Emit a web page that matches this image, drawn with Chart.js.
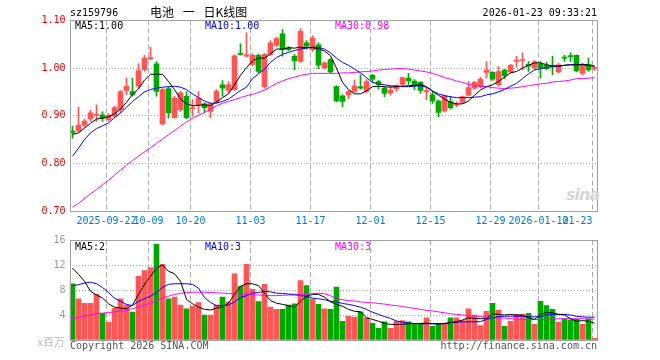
<!DOCTYPE html>
<html>
<head>
<meta charset="utf-8">
<title>电池 日K线图</title>
<script src="https://cdn.jsdelivr.net/npm/chart.js@4.4.1/dist/chart.umd.min.js"></script>
<style>
  body { margin: 0; background: #fff; }
  #box { position: relative; width: 660px; height: 360px; overflow: hidden; }
  canvas { position: absolute; left: 0; }
  .t { position: absolute; font: 10px "DejaVu Sans Mono", monospace; line-height: 12px; white-space: pre; color: #000; }
</style>
</head>
<body>
<div id="box">
  <canvas id="kline" width="660" height="230" style="top:0"></canvas>
  <canvas id="volume" width="660" height="130" style="top:230px"></canvas>
  <div class="t" style="left:70px;top:7px">sz159796</div>
  <div class="t" style="left:150px;top:4px;font:12px 'Noto Sans CJK SC';line-height:16px;word-spacing:6px">电池 一 日K线图</div>
  <div class="t" style="right:63px;top:7px">2026-01-23 09:33:21</div>
  <div class="t" style="left:75px;top:20px">MA5:1.00</div>
  <div class="t" style="left:205px;top:20px;color:#00f">MA10:1.00</div>
  <div class="t" style="left:335px;top:20px;color:#f0f">MA30:0.98</div>
  <div class="t" style="left:75px;top:241px">MA5:2</div>
  <div class="t" style="left:205px;top:241px;color:#00f">MA10:3</div>
  <div class="t" style="left:335px;top:241px;color:#f0f">MA30:3</div>
  <div class="t" style="right:595px;top:333px;font:11px 'Noto Sans CJK SC';line-height:16px;color:#bbb">x百万</div>
  <div class="t" style="left:70px;top:340px;color:#555">Copyright 2026 SINA.COM</div>
  <div class="t" style="right:63px;top:340px;color:#555">http://finance.sina.com.cn</div>
  <div class="t" style="left:566px;top:186px;font:italic bold 16px 'DejaVu Sans';line-height:18px;color:#d4d4d4;letter-spacing:-1px">sina</div>
</div>
<script>
// ***** data *****
// trading days (category axis)
const days = [
  "2025-09-12", "2025-09-15", "2025-09-16", "2025-09-17", "2025-09-18", "2025-09-19",
  "2025-09-22", "2025-09-23", "2025-09-24", "2025-09-25", "2025-09-26", "2025-09-29", "2025-09-30",
  "2025-10-09", "2025-10-10", "2025-10-13", "2025-10-14", "2025-10-15", "2025-10-16", "2025-10-17",
  "2025-10-20", "2025-10-21", "2025-10-22", "2025-10-23", "2025-10-24", "2025-10-27", "2025-10-28",
  "2025-10-29", "2025-10-30", "2025-10-31",
  "2025-11-03", "2025-11-04", "2025-11-05", "2025-11-06", "2025-11-07", "2025-11-10", "2025-11-11",
  "2025-11-12", "2025-11-13", "2025-11-14", "2025-11-17", "2025-11-18", "2025-11-19", "2025-11-20",
  "2025-11-21", "2025-11-24", "2025-11-25", "2025-11-26", "2025-11-27", "2025-11-28",
  "2025-12-01", "2025-12-02", "2025-12-03", "2025-12-04", "2025-12-05", "2025-12-08", "2025-12-09",
  "2025-12-10", "2025-12-11", "2025-12-12", "2025-12-15", "2025-12-16", "2025-12-17", "2025-12-18",
  "2025-12-19", "2025-12-22", "2025-12-23", "2025-12-24", "2025-12-25", "2025-12-26", "2025-12-29",
  "2025-12-30", "2025-12-31",
  "2026-01-05", "2026-01-06", "2026-01-07", "2026-01-08", "2026-01-09", "2026-01-12", "2026-01-13",
  "2026-01-14", "2026-01-15", "2026-01-16", "2026-01-19", "2026-01-20", "2026-01-21", "2026-01-22",
  "2026-01-23",
];

// tick labels of the date axis
const tickDays = ["2025-09-22", "2025-10-09", "2025-10-20", "2025-11-03", "2025-11-17",
  "2025-12-01", "2025-12-15", "2025-12-29", "2026-01-12", "2026-01-23"];
const tickText = ["2025-09-22", "10-09", "10-20", "11-03", "11-17",
  "12-01", "12-15", "12-29", "2026-01-12", "01-23"];

const opens = [
  0.868, 0.868, 0.880, 0.894, 0.901, 0.902, 0.892, 0.899, 0.913, 0.953,
  0.951, 0.962, 0.997, 1.020, 1.009, 0.883, 0.957, 0.896, 0.913, 0.941,
  0.915, 0.923, 0.925, 0.909, 0.930, 0.965, 0.953, 0.955, 1.031, 1.025,
  1.008, 1.027, 0.961, 1.029, 1.048, 1.072, 1.042, 1.025, 1.014, 1.053,
  1.039, 1.049, 1.001, 1.018, 0.961, 0.942, 0.944, 0.951, 0.961, 0.951,
  0.985, 0.972, 0.958, 0.948, 0.957, 0.966, 0.979, 0.973, 0.970, 0.950,
  0.944, 0.931, 0.910, 0.930, 0.922, 0.928, 0.943, 0.958, 0.961, 0.991,
  0.991, 0.965, 0.996, 0.992, 1.014, 1.016, 1.008, 1.001, 1.008, 1.006,
  1.004, 0.992, 1.022, 1.025, 1.027, 0.989, 1.008, 0.999,
];
const highs = [
  0.878, 0.918, 0.893, 0.912, 0.923, 0.908, 0.905, 0.920, 0.953, 0.979,
  0.979, 1.009, 1.027, 1.044, 1.014, 0.958, 0.960, 0.941, 0.951, 0.951,
  0.934, 0.951, 0.927, 0.927, 0.955, 0.974, 0.972, 1.028, 1.051, 1.074,
  1.030, 1.030, 1.031, 1.058, 1.065, 1.081, 1.045, 1.029, 1.083, 1.058,
  1.068, 1.053, 1.013, 1.020, 0.963, 0.944, 0.953, 0.975, 0.986, 0.976,
  0.987, 0.975, 0.960, 0.962, 0.965, 0.981, 0.989, 0.976, 0.972, 0.958,
  0.951, 0.933, 0.944, 0.940, 0.930, 0.942, 0.972, 0.972, 0.981, 1.014,
  0.993, 1.003, 0.998, 1.008, 1.025, 1.032, 1.014, 1.016, 1.014, 1.012,
  1.025, 1.010, 1.027, 1.032, 1.028, 1.010, 1.021, 1.003,
];
const lows = [
  0.853, 0.865, 0.876, 0.888, 0.888, 0.888, 0.889, 0.897, 0.906, 0.944,
  0.941, 0.958, 0.993, 1.018, 0.941, 0.881, 0.895, 0.895, 0.909, 0.894,
  0.899, 0.906, 0.906, 0.896, 0.926, 0.941, 0.948, 0.953, 1.027, 1.023,
  1.005, 0.990, 0.958, 1.026, 1.045, 1.025, 1.036, 0.996, 1.012, 1.040,
  1.035, 0.999, 0.998, 0.990, 0.929, 0.919, 0.936, 0.949, 0.956, 0.949,
  0.970, 0.956, 0.940, 0.943, 0.951, 0.963, 0.966, 0.955, 0.947, 0.934,
  0.926, 0.898, 0.908, 0.914, 0.919, 0.926, 0.941, 0.956, 0.958, 0.979,
  0.974, 0.962, 0.978, 0.990, 1.003, 0.996, 0.993, 0.997, 0.979, 0.996,
  0.986, 0.990, 1.014, 1.014, 0.992, 0.985, 0.993, 0.995,
];
const closes = [
  0.865, 0.880, 0.889, 0.906, 0.903, 0.895, 0.901, 0.917, 0.951, 0.962,
  0.944, 0.995, 1.021, 1.022, 0.951, 0.955, 0.906, 0.937, 0.948, 0.896,
  0.917, 0.937, 0.917, 0.925, 0.952, 0.958, 0.965, 1.026, 1.029, 1.028,
  1.027, 0.993, 1.029, 1.053, 1.062, 1.039, 1.039, 1.015, 1.077, 1.046,
  1.063, 1.006, 1.011, 0.992, 0.931, 0.930, 0.951, 0.963, 0.958, 0.972,
  0.977, 0.965, 0.947, 0.954, 0.964, 0.980, 0.973, 0.964, 0.953, 0.953,
  0.931, 0.907, 0.942, 0.917, 0.924, 0.940, 0.959, 0.970, 0.977, 0.996,
  0.977, 0.993, 0.984, 1.006, 1.017, 1.018, 1.004, 1.013, 1.000, 0.999,
  1.003, 1.007, 1.021, 1.024, 0.994, 1.008, 0.996, 1.001,
];

// price moving averages
const ma5 = [
  0.861, 0.864, 0.874, 0.884, 0.893, 0.895, 0.898, 0.904, 0.914, 0.928,
  0.945, 0.956, 0.975, 0.987, 0.987, 0.987, 0.972, 0.955, 0.935, 0.925,
  0.921, 0.922, 0.923, 0.921, 0.929, 0.938, 0.946, 0.965, 0.985, 1.001,
  1.015, 1.021, 1.021, 1.030, 1.040, 1.040, 1.043, 1.042, 1.044, 1.043,
  1.043, 1.040, 1.036, 1.026, 1.000, 0.970, 0.955, 0.946, 0.946, 0.952,
  0.961, 0.962, 0.961, 0.960, 0.961, 0.962, 0.963, 0.964, 0.966, 0.961,
  0.952, 0.943, 0.935, 0.928, 0.925, 0.925, 0.931, 0.943, 0.954, 0.961,
  0.965, 0.972, 0.981, 0.990, 0.993, 1.000, 1.006, 1.011, 1.011, 1.007,
  1.005, 1.004, 1.006, 1.007, 1.007, 1.008, 1.006, 1.004,
];
const ma10 = [
  0.815, 0.832, 0.850, 0.864, 0.873, 0.879, 0.885, 0.896, 0.906, 0.918,
  0.930, 0.940, 0.950, 0.955, 0.958, 0.960, 0.961, 0.962, 0.960, 0.955,
  0.946, 0.938, 0.931, 0.926, 0.927, 0.930, 0.935, 0.944, 0.953, 0.960,
  0.978, 0.988, 0.998, 1.012, 1.022, 1.029, 1.033, 1.037, 1.040, 1.042,
  1.044, 1.043, 1.040, 1.032, 1.021, 1.012, 1.006, 0.998, 0.990, 0.980,
  0.970, 0.967, 0.965, 0.963, 0.962, 0.961, 0.961, 0.962, 0.963, 0.960,
  0.952, 0.946, 0.942, 0.940, 0.938, 0.938, 0.938, 0.939, 0.940, 0.944,
  0.946, 0.950, 0.955, 0.962, 0.968, 0.978, 0.988, 0.996, 0.999, 1.001,
  1.003, 1.004, 1.006, 1.007, 1.007, 1.007, 1.006, 1.004,
];
const ma30 = [
  0.708, 0.716, 0.726, 0.736, 0.745, 0.755, 0.765, 0.775, 0.786, 0.796,
  0.806, 0.815, 0.824, 0.833, 0.842, 0.851, 0.860, 0.869, 0.878, 0.887,
  0.895, 0.901, 0.907, 0.914, 0.921, 0.926, 0.930, 0.934, 0.938, 0.942,
  0.945, 0.949, 0.954, 0.961, 0.968, 0.973, 0.978, 0.981, 0.985, 0.987,
  0.989, 0.989, 0.989, 0.989, 0.989, 0.990, 0.990, 0.991, 0.992, 0.993,
  0.994, 0.996, 0.997, 0.998, 0.999, 0.999, 0.998, 0.996, 0.994, 0.992,
  0.989, 0.985, 0.980, 0.977, 0.973, 0.970, 0.966, 0.964, 0.962, 0.961,
  0.959, 0.958, 0.957, 0.958, 0.959, 0.961, 0.963, 0.965, 0.967, 0.968,
  0.971, 0.972, 0.973, 0.975, 0.978, 0.978, 0.979, 0.980,
];

// volume, millions
const volumes = [
  9.0, 6.6, 5.85, 5.85, 7.3, 4.25, 2.85, 5.05, 6.6, 5.6,
  4.45, 10.2, 11.1, 11.6, 15.3, 12.1, 6.6, 6.85, 5.6, 5.0,
  5.4, 6.0, 4.0, 4.0, 5.6, 6.85, 6.1, 10.6, 8.6, 12.1,
  8.1, 6.15, 8.9, 5.25, 4.9, 4.9, 5.6, 5.8, 9.5, 8.7,
  6.5, 5.7, 5.0, 4.9, 8.45, 3.0, 3.8, 3.65, 4.5, 3.55,
  2.65, 1.85, 2.9, 1.85, 3.0, 3.1, 2.9, 2.5, 2.6, 3.55,
  2.2, 2.65, 2.6, 3.55, 3.55, 3.1, 5.0, 4.0, 2.3, 4.6,
  5.85, 4.8, 2.2, 3.0, 4.1, 4.1, 4.25, 2.5, 6.2, 5.5,
  4.9, 2.85, 3.4, 3.2, 3.3, 2.5, 3.4, 0.25,
];
const vma5 = [
  11.5, 10.5, 9.4, 7.8, 7.2, 6.7, 5.8, 5.25, 5.1, 5.0,
  5.6, 7.3, 8.9, 10.2, 11.5, 12.0, 11.0, 10.6, 9.4, 6.5,
  5.8, 5.25, 4.9, 4.8, 5.1, 5.25, 5.9, 7.3, 8.6, 9.0,
  9.0, 8.7, 7.5, 6.3, 5.9, 5.7, 5.5, 5.25, 6.2, 7.0,
  7.3, 7.3, 6.85, 6.1, 5.7, 5.4, 4.9, 4.6, 4.5, 3.55,
  3.3, 3.0, 2.65, 2.5, 2.5, 2.5, 2.6, 2.65, 2.65, 2.7,
  2.6, 2.6, 2.6, 2.8, 2.9, 3.2, 3.55, 3.45, 3.4, 3.45,
  4.2, 4.1, 4.0, 4.1, 4.0, 4.0, 3.55, 3.3, 4.1, 4.4,
  4.35, 4.1, 4.0, 3.4, 3.0, 3.1, 3.0, 2.7,
];
const vma10 = [
  8.7, 8.85, 9.1, 9.25, 9.0, 8.4, 7.6, 6.7, 6.2, 5.7,
  5.5, 6.2, 6.6, 7.0, 7.6, 8.4, 8.9, 9.0, 9.0, 9.0,
  8.9, 8.3, 6.8, 6.0, 5.5, 5.5, 5.6, 6.1, 6.8, 7.1,
  7.5, 7.6, 7.8, 7.7, 7.5, 7.45, 7.35, 7.3, 7.1, 7.0,
  6.7, 6.6, 6.45, 6.2, 6.1, 5.85, 5.7, 5.5, 5.25, 4.9,
  4.45, 4.1, 3.75, 3.45, 3.05, 2.85, 2.7, 2.65, 2.6, 2.6,
  2.6, 2.6, 2.65, 2.8, 2.85, 2.9, 2.9, 2.9, 2.95, 3.3,
  3.55, 3.75, 3.8, 3.8, 3.8, 3.8, 3.75, 3.7, 3.75, 4.0,
  4.1, 4.1, 4.1, 4.0, 3.8, 3.7, 3.65, 3.65,
];
const vma30 = [
  3.4, 3.6, 3.85, 4.0, 4.2, 4.3, 4.4, 4.5, 4.65, 4.8,
  5.0, 5.3, 5.6, 5.9, 6.3, 6.7, 7.0, 7.3, 7.45, 7.6,
  7.65, 7.65, 7.65, 7.6, 7.55, 7.5, 7.45, 7.4, 7.35, 7.3,
  7.25, 7.2, 7.15, 7.1, 7.1, 7.15, 7.2, 7.2, 7.25, 7.3,
  7.4, 7.5, 7.4, 7.1, 6.6, 6.45, 6.3, 6.25, 6.1, 6.0,
  5.95, 5.85, 5.75, 5.6, 5.5, 5.35, 5.2, 5.05, 4.9, 4.75,
  4.65, 4.5, 4.35, 4.2, 4.1, 4.0, 3.9, 3.85, 3.75, 3.7,
  3.6, 3.55, 3.5, 3.4, 3.35, 3.3, 3.3, 3.3, 3.3, 3.3,
  3.35, 3.4, 3.4, 3.4, 3.4, 3.4, 3.35, 3.35,
];

// ***** styles *****
const RED = "#ff5555";
const GREEN = "#00a800";
const MONO = "DejaVu Sans Mono";
const upColor = opens.map((o, i) => (closes[i] >= o ? RED : GREEN));
const tickIdx = tickDays.map((d) => days.indexOf(d));

// dashed day lines, frame box, date labels
const sinaFrame = {
  id: "sinaFrame",
  beforeDatasetsDraw(chart, args, opts) {
    const { ctx, chartArea: a, scales: { x } } = chart;
    ctx.save();
    ctx.strokeStyle = "#aaa";
    ctx.lineWidth = 1;
    ctx.setLineDash([5, 3]);
    tickIdx.forEach((idx) => {
      const px = Math.floor(x.getPixelForValue(idx) - 2.5) + 0.5;
      ctx.beginPath();
      ctx.moveTo(px, a.top);
      ctx.lineTo(px, a.bottom);
      ctx.stroke();
    });
    ctx.restore();
  },
  afterDraw(chart, args, opts) {
    const { ctx, chartArea: a, scales: { x } } = chart;
    ctx.save();
    ctx.strokeStyle = "#a0a0a0";
    ctx.lineWidth = 1;
    const l = Math.round(a.left) + 0.5;
    const r = Math.round(a.right) - 0.5;
    ctx.strokeRect(l, opts.top, r - l, opts.bottom - opts.top);
    if (opts.labels) {
      ctx.font = "10px " + MONO;
      ctx.fillStyle = "#0078d7";
      ctx.textBaseline = "middle";
      tickIdx.forEach((idx, k) => {
        const px = Math.floor(x.getPixelForValue(idx) - 2.5) + 0.5;
        ctx.textAlign = k === tickIdx.length - 1 ? "right" : "center";
        ctx.fillText(tickText[k], px, 221);
      });
    }
    ctx.restore();
  },
};

const lineSet = (label, data, color) => ({
  type: "line",
  label,
  data,
  borderColor: color,
  borderWidth: 1,
  pointRadius: 0,
  tension: 0,
  fill: false,
  order: 0,
});

// ***** candle chart *****
const klineChart = new Chart(document.getElementById("kline"), {
  type: "bar",
  data: {
    labels: days,
    datasets: [
      lineSet("MA5", ma5, "#000"),
      lineSet("MA10", ma10, "#0000ff"),
      lineSet("MA30", ma30, "#ff00ff"),
      {
        label: "body",
        data: opens.map((o, i) => [Math.min(o, closes[i]), Math.max(o, closes[i])]),
        backgroundColor: upColor,
        barThickness: 5,
        minBarLength: 1,
        grouped: false,
        order: 1,
      },
      {
        label: "wick",
        data: lows.map((l, i) => [l, highs[i]]),
        backgroundColor: upColor,
        barThickness: 1,
        grouped: false,
        order: 2,
      },
    ],
  },
  options: {
    responsive: false,
    animation: false,
    devicePixelRatio: 1,
    layout: { padding: { top: 20.5, right: 62.5, bottom: 19, left: 0 } },
    scales: {
      x: { display: false },
      y: {
        min: 0.7,
        max: 1.1,
        afterFit: (s) => { s.width = 69.5; },
        grid: { color: "#aaa", drawTicks: false },
        border: { display: false, dash: [1, 2] },
        ticks: {
          stepSize: 0.1,
          padding: 4,
          color: "#e00000",
          font: { family: MONO, size: 10 },
          callback: (v) => v.toFixed(2),
        },
      },
    },
    plugins: {
      legend: { display: false },
      tooltip: { enabled: false },
      sinaFrame: { top: 20.5, bottom: 211.5, labels: true },
    },
  },
  plugins: [sinaFrame],
});

// ***** volume chart *****
const volumeChart = new Chart(document.getElementById("volume"), {
  type: "bar",
  data: {
    labels: days,
    datasets: [
      lineSet("MA5", vma5, "#000"),
      lineSet("MA10", vma10, "#0000ff"),
      lineSet("MA30", vma30, "#ff00ff"),
      {
        label: "volume",
        data: volumes,
        backgroundColor: upColor,
        barThickness: 5,
        grouped: false,
        order: 1,
      },
    ],
  },
  options: {
    responsive: false,
    animation: false,
    devicePixelRatio: 1,
    layout: { padding: { top: 10, right: 62.5, bottom: 20, left: 0 } },
    scales: {
      x: { display: false },
      y: {
        min: 0,
        max: 16,
        afterFit: (s) => { s.width = 69.5; },
        grid: { color: "#aaa", drawTicks: false },
        border: { display: false, dash: [1, 2] },
        ticks: {
          stepSize: 4,
          padding: 4,
          color: "#999",
          font: { family: MONO, size: 10 },
          callback: (v) => (v === 0 ? "" : v),
        },
      },
    },
    plugins: {
      legend: { display: false },
      tooltip: { enabled: false },
      sinaFrame: { top: 10.5, bottom: 110.5, labels: false },
    },
  },
  plugins: [sinaFrame],
});
</script>
</body>
</html>
